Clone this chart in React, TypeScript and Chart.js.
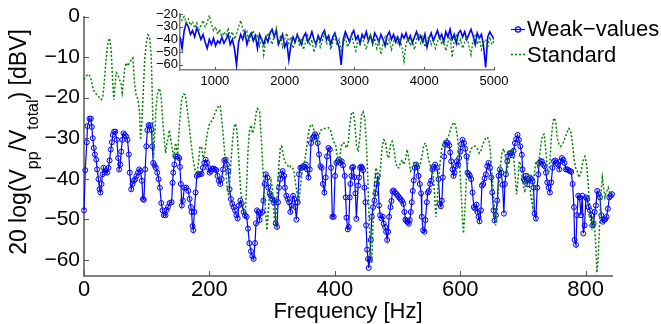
import React, { useEffect, useRef } from 'react';
import { Chart, registerables } from 'chart.js';
Chart.register(...registerables);

const FONT = '"Liberation Sans", Arial, Helvetica, sans-serif';

// ---------- main plot data ----------
const weakFreq = [0,2,4.5,5.6,8.8,11,12.5,14,15.6,17.3,19.4,21,23,24.7,26.3,28,29.5,31,33,35.4,37,39,40.7,42.8,44.4,46,48,50,52.4,54.5,56,57.8,59.4,61,63,65,67.4,69.4,71.5,73,75.3,77.4,79.5,81.7,83.8,86,88,90,92.3,93.9,95.5,97.6,99.3,101,103,105.6,107.7,108.8,110.4,112.5,114.6,116.8,119,121,123.2,125.3,127.4,130,131.7,133.8,136.5,139.7,141.3,142.3,144,146,149,152,153,154.5,156,157.7,160,163,166.3,168.4,170.5,171.5,173,174.3,175.9,178,180,182.3,184.8,187.5,189.6,191.8,194,196,198.2,200.3,202.4,204.6,206.7,208.8,211,213,215,217.4,219.5,221.6,223.8,225.9,228,230,232.2,234.3,236.5,238.6,240.7,243,245,247,249.3,251.4,254.6,256.7,259.4,261.5,263.7,266.3,268.5,270.5,272.7,274.3,275.8,278,280,281.7,284.4,286,288,290,292.4,294,296,297.7,300.4,302.5,304,305.7,307.8,309.4,311,313,314.7,316.8,319,320.5,322.7,324.8,327,329,331.2,333.3,335.5,337,338.7,340.8,342.9,345,347.2,349.2,351.5,353.6,355.6,358,360,362,364.2,366.3,368.4,370.6,372.7,374.8,377,379,381,383.4,385.5,387.5,389.8,392,394,396,398.2,400.3,402.5,404.6,406.7,409,411,413,415.8,417.4,418.5,420.6,422.2,423.8,424.8,426.4,427.5,429.1,431.2,432.8,434.4,437.1,438.7,440.3,441.9,443.5,445.1,447.2,448.8,449.8,451.4,453,454.1,455.7,457.3,458.9,461,463.1,464.7,466.9,468.5,470.6,472.2,474.3,476.4,478,480.2,481.8,483.4,485,486.6,488.7,490.3,491.9,494,496.1,498.3,500.4,502.5,504.6,507.3,509.4,511,512.6,514.2,516.3,518,519.5,521.1,522.7,524.3,525.9,527.5,529.6,531.2,533.4,535.5,537.6,538.7,540.8,543,544.5,546.7,548.3,549.9,552,553.6,555.7,557.4,560,562.7,565.3,567.5,569.1,570.7,572.3,574.4,576,578.1,580.2,582.4,584,585.6,587.7,589.3,590.9,593,594.6,596.7,598.3,599.9,601.5,603.6,605.8,607.9,610,611.6,613.8,615.3,617.5,619.6,621.7,623.9,626,627.6,629.2,630.8,633,634.5,636.6,638.8,640.9,643,645.1,647.3,649.4,651,653.1,654.7,656.8,659,661.1,663.2,665.4,667.5,669.6,671.2,672.8,675,676.5,678.7,680.8,682.9,685,687.2,689.3,691.4,693.6,695.7,698.3,699.4,701.5,703.1,704.7,706.8,709,711.1,713.2,715.3,716.9,718.5,720.6,722.8,724.4,726,728.1,730.2,732.3,734.5,736.6,738.7,740.9,743,745.1,747.2,749.4,751.5,753.6,755.7,757.9,760,762.1,764.3,766.4,768.5,770.6,772.8,774.9,777,779.2,781.3,782.3,784.5,786.1,788.2,790.3,792.5,794.6,796.2,798.3,800.4,802.6,804.7,806.8,809,810.5,812.7,814.3,816.4,818.5,820.7,822.8,824.9,827,829.2,831.3,833.4,835.5,837.7,839.8,842];
const weakDb = [-47.8,-37.9,-31,-27,-25.2,-25.2,-27.2,-30,-32.4,-34,-35.3,-37.7,-40.1,-42.6,-43.4,-41.3,-38.9,-37.3,-38.5,-37.9,-38.5,-37.3,-35.5,-32.8,-31,-29.2,-28.4,-28.4,-30.4,-34.9,-37.7,-36.5,-33.3,-30.4,-28.8,-29.2,-29.6,-30.4,-34,-38.5,-42.6,-41.3,-40.5,-40.1,-39.3,-38.5,-37.7,-38.1,-40.5,-45,-45.2,-37.7,-32,-28,-26.8,-26.8,-28,-32,-36.1,-36.7,-37.3,-38.5,-40.1,-42.2,-46,-47.8,-49,-49,-47.7,-47,-46,-45.8,-41,-38.5,-36.5,-34.5,-34.5,-34.9,-37.1,-41.3,-46.6,-45.4,-42.2,-42.2,-43,-45,-47,-48.2,-51.7,-52.7,-48.2,-43.4,-39.3,-38.9,-38.9,-38.8,-37.3,-36.1,-35.3,-36.1,-37.3,-38.5,-38.1,-37.5,-37.5,-37.7,-37.9,-39.3,-40.5,-41.3,-40.1,-37.7,-35.5,-35.3,-36.5,-38.1,-42.6,-45,-46.2,-47,-47.8,-49,-49.8,-46.6,-45.4,-46.2,-48.2,-49,-49.4,-52.3,-55.9,-57.9,-59.1,-59.8,-55.9,-51,-47.8,-48.2,-50.2,-48.6,-48.2,-45.4,-41.3,-38.9,-39.7,-42.2,-43.6,-44.2,-45,-45.8,-45.4,-51,-51.9,-45.8,-42.2,-40.1,-38.9,-38.1,-39.3,-42.2,-44.2,-45,-45.8,-48.2,-46.6,-44.2,-45,-47,-50.1,-45.8,-38.9,-37.3,-37.3,-36.9,-37.1,-36.5,-37.7,-39.7,-37.7,-31.2,-30,-29.6,-29,-29.6,-31.2,-34,-36.9,-37.3,-41.3,-43.4,-39.7,-34.5,-32.4,-32.8,-37.3,-49.4,-49.4,-39.3,-36.1,-35.7,-35.3,-36.1,-35.7,-36.7,-39.3,-44.6,-49.6,-52.5,-51.9,-44.6,-41.3,-39.3,-37.3,-37.1,-39.6,-43.6,-49.9,-41.7,-39.7,-37.3,-37,-37.3,-37.9,-42.2,-45.8,-51.5,-57.5,-59.8,-62,-60,-55.1,-49.4,-47,-45.4,-43.6,-41.3,-39.3,-46.6,-49,-49.8,-49.4,-51.1,-51.9,-53.1,-55.1,-53.1,-49.4,-47,-45.5,-43.1,-42.9,-43.4,-43.8,-44.2,-44.6,-45,-45.5,-46.2,-48.2,-50.1,-50.4,-50.7,-51.1,-50.2,-48.2,-45.8,-43,-40.4,-37.3,-36.5,-37.1,-39.3,-41.3,-43.6,-49.4,-52.7,-53.1,-50.2,-45.8,-43.4,-43,-41.3,-40.5,-37.7,-37.1,-36.5,-37.3,-40.1,-46.2,-46.8,-45.4,-39.7,-34.5,-31.6,-31,-31.2,-31.8,-33.5,-35.7,-37.7,-39.3,-38.5,-36.9,-35.7,-36.5,-34.9,-33.3,-31.5,-30.4,-31.2,-32.6,-34.5,-38.5,-38.9,-39.3,-40.1,-43.4,-47,-47.4,-46.4,-48.2,-49.4,-50.5,-47.8,-41.7,-41.3,-39.9,-38.9,-36.9,-36.1,-37.3,-39.7,-43.4,-47.8,-50.3,-49,-45.4,-39.3,-37.7,-38.5,-41.5,-48.6,-41.3,-38.9,-35.7,-34.5,-33.7,-33.7,-34.2,-33.1,-31.2,-30.2,-29.2,-30.4,-32,-34.1,-37.7,-40.1,-40.5,-39.3,-41.4,-40.1,-39.7,-40.1,-40.7,-42.2,-48.6,-49.8,-42.2,-38.9,-36.1,-35.7,-35.7,-36.5,-36.9,-38.5,-40.9,-42.2,-43.4,-40.9,-37.3,-35.7,-35.5,-36.1,-36.5,-37.7,-35.7,-34.9,-35.3,-36.1,-37.7,-37.7,-37.9,-38.1,-38.3,-41.3,-47,-55.1,-56.3,-49,-44.2,-44.6,-49,-44.2,-53.5,-51.5,-44.6,-45,-47,-47.8,-49,-51.5,-51.1,-48.2,-46.6,-43,-43.8,-44.6,-49,-50.6,-50.2,-50,-49.4,-47.4,-44.6,-44.2,-43.8];

const stdFreq = [0,3.4,7.7,11.4,14.1,16.7,22.1,27.4,30,32.7,35.4,38,40.7,43.3,46,47.6,49.7,51.3,54,56.6,59.3,60.9,63,64.6,67.3,69.9,72.6,75.3,77.9,80.6,83.2,85.9,88.6,90.2,92.3,93.9,96.5,99.2,101.9,104.5,107.2,108.8,109.8,110.9,112.5,115.2,117.8,120.5,123.1,125.8,128.5,130.1,132.2,134.3,136,139.7,142.9,146.1,149.3,152.5,155.7,158.8,161.5,164.2,167.3,170.5,173.7,176.9,180.1,182.8,184.9,187.6,190.2,192.9,196.1,199.3,202.5,205.7,208.8,212,215.2,217.4,220,222.7,224.8,226.9,229.1,231.2,233.8,236.5,239.2,241.8,244,246.1,248.2,250.3,253,255.1,257.3,259.4,261.5,263.6,266.3,269,271.6,274.8,276.4,280.1,283.3,285.4,287.5,289.7,291.8,293.9,296.1,298.2,300.3,302.4,304.6,306.7,308.8,310.9,313.1,315.2,317.3,319.5,321.6,324.2,326.9,329.6,332.2,334.9,337.5,340.2,342.9,345.5,348.2,350.8,353.5,356.2,358.8,361.5,364.1,366.8,369.5,371.6,373.7,375.8,378,381.2,385.4,389.7,392.9,395,397.1,399.3,401.4,403.5,405.6,407.8,409.9,411.9,414.7,418.5,421.1,423.8,426.4,429.1,431.8,434.4,437.1,439.7,442.4,445.1,447.7,450.4,452.5,454.6,456.8,458.9,461,463.1,465.3,467.4,470,472.7,475.4,478,480.7,483.4,486,488.7,491.3,494,496.7,499.3,502,504.6,507.3,509.9,512.6,515.3,517.9,520.6,523.3,525.9,528.6,531.2,533.9,536.6,539.2,541.9,544.5,547.2,549.9,552.5,556.8,559,561.1,563.2,565.3,568,570.7,573.9,577.1,580.2,583.4,586.6,589.8,592.5,595.1,597.3,599.4,601.5,603.6,605.2,607.4,609.5,612.2,614.8,617.5,620.7,623.9,627.1,630.3,633.4,636.6,639.8,643,645.7,648.3,651,653.6,656.3,658.4,661.1,663.8,666.4,669.1,671.7,674.4,677.1,679.7,682.4,685,687.7,689.8,692,694.1,696.2,698,700.4,703.1,705.7,708.4,711.1,713.7,715.8,718,720.6,723.3,726,728.6,731.3,733.9,736.6,738.7,740.9,743,745.6,748.3,750.4,752.6,754.7,757.3,760,763.2,766.4,769.6,772.8,776,778.6,781.3,784,786.6,789.3,792.5,795.6,798.8,801.5,803.6,805.8,807.9,810,812.1,814.3,816.4,818,820.1,822.2,824.4,826.5,828.6,830.8,832.9,836,838.7,842];
const stdDb = [-15.5,-14.6,-14.2,-15.5,-17.5,-18.7,-19.5,-20.5,-19.9,-15.5,-10.2,-6.6,-5.3,-8.2,-17.1,-20.5,-16.7,-13.8,-14.2,-15.5,-16.7,-18.7,-15.9,-13,-11.4,-12.2,-11.4,-10.6,-10.2,-16.3,-19.5,-20.3,-23.5,-30.4,-26,-20.7,-11.4,-6.6,-4.5,-4.9,-9.8,-18.7,-26,-34.9,-30,-21.9,-18.3,-17.7,-19.9,-26,-31.2,-33.7,-31.2,-29.9,-28,-31.6,-34.9,-31.2,-34.1,-26,-20.3,-19.1,-19.3,-22.3,-26.4,-30.8,-34.9,-37.7,-38.9,-35.7,-32,-32.4,-34.9,-33.3,-29.2,-26.8,-26,-25.2,-23.9,-22.7,-21.9,-22.1,-26,-30.4,-34.9,-39.7,-43.4,-44.2,-37.3,-31.2,-27.2,-26.4,-28.4,-33.3,-38.9,-43.8,-46.2,-47.8,-48.6,-41.3,-33.3,-28.4,-26.8,-28.8,-27.2,-23.5,-22.7,-23.5,-31.6,-38.1,-43.8,-48.6,-52.7,-47.8,-43.4,-40.5,-42.2,-47.8,-51.9,-47.8,-41.3,-36.5,-32.4,-32,-33.7,-35.3,-36.1,-36.5,-37.3,-36.9,-37.3,-38.1,-41.3,-43.8,-45.4,-41.3,-38.1,-36.5,-34.1,-30.8,-28,-26.6,-26.8,-28,-30,-31.2,-30,-28.8,-28,-27.6,-27.6,-27.4,-27.8,-29.2,-30.4,-31.2,-31.6,-34.1,-35.7,-34.9,-32.4,-31.2,-31.2,-32.4,-31.6,-26.8,-24,-23.5,-26,-31.6,-33.3,-30,-24.4,-23.5,-25.2,-31.6,-39.7,-49.4,-57.5,-60.8,-51.1,-41.3,-37.3,-38.1,-41.3,-37.3,-32.4,-30.4,-30.8,-34.1,-34.9,-31.6,-30.8,-32.4,-35.7,-37.3,-37.3,-36.1,-35.3,-36.5,-35.3,-32.8,-34.9,-38.1,-37.3,-36.1,-36.5,-36.1,-36.9,-36.1,-34.1,-31.6,-31.2,-32.8,-35.7,-36.9,-38.9,-43.8,-49.4,-45.4,-40.5,-35.7,-32.4,-30.8,-30.4,-30,-28.4,-26.8,-26.1,-26.8,-29.2,-32.4,-37.3,-43.8,-50.2,-53.5,-47.8,-40.5,-35.7,-33.7,-32.6,-32,-32,-32.6,-33.7,-32.9,-31.2,-30.2,-29.7,-30.4,-33.7,-39.3,-45.4,-51.5,-48.6,-42.2,-37.3,-33.7,-32.6,-34.1,-38.1,-35.7,-33.3,-32.6,-34.1,-39.7,-43.8,-40.5,-35.7,-36.5,-38.9,-41.7,-43.4,-40.5,-38.5,-42.2,-45.4,-47,-38.9,-35.7,-36.9,-34.9,-31.6,-29.2,-29,-33.3,-37.3,-38.9,-35.7,-29.2,-25.6,-25,-26.4,-30,-31.5,-32,-31.5,-30.2,-28.8,-27.6,-28,-30.8,-34.9,-37.3,-38.1,-39.7,-38.5,-35.7,-34.5,-36.5,-40.5,-45.4,-50.2,-51.9,-49.4,-51.9,-57.5,-63.2,-59.1,-51.1,-43.8,-39.7,-42.2,-44.6,-43.4,-42.2,-43.8,-43.4];

const xTicks = [0, 200, 400, 600, 800];
const yTicks = [0, -10, -20, -30, -40, -50, -60];

// ---------- inset data (500..5000 Hz) ----------
const insetXTicks = [1000, 2000, 3000, 4000, 5000];
const insetYTicks = [-20, -30, -40, -50, -60];
const insetWeakDb = [-38,-47,-33,-27,-30,-36,-33,-38,-31,-35,-40,-36,-42,-47,-40,-44,-39,-45,-41,-43,-38,-43,-40,-36,-44,-40,-47,-60,-42,-36,-40,-34,-44,-38,-35,-41,-37,-47,-36,-40,-44,-38,-42,-35,-32,-38,-33,-44,-40,-36,-46,-42,-56,-44,-38,-42,-36,-40,-44,-38,-35,-42,-39,-34,-40,-44,-37,-41,-36,-33,-40,-37,-44,-38,-35,-41,-46,-60,-40,-34,-38,-42,-36,-33,-40,-37,-43,-36,-39,-34,-41,-37,-43,-35,-38,-42,-36,-40,-45,-37,-34,-40,-36,-42,-38,-44,-36,-39,-35,-41,-37,-43,-38,-34,-40,-37,-42,-36,-46,-39,-35,-41,-37,-33,-39,-36,-42,-34,-38,-32,-40,-36,-43,-35,-33,-38,-34,-40,-36,-32,-37,-44,-35,-39,-36,-45,-62,-38,-34,-37,-40];
const insetStdDb = [-21,-25,-22,-27,-24,-29,-26,-31,-27,-33,-29,-25,-30,-27,-21,-28,-33,-30,-36,-32,-39,-34,-37,-31,-38,-34,-40,-36,-30,-25,-32,-38,-34,-42,-37,-33,-40,-36,-45,-38,-52,-40,-35,-39,-44,-37,-31,-41,-38,-46,-40,-35,-43,-38,-47,-41,-36,-44,-39,-48,-42,-37,-45,-40,-50,-43,-38,-46,-41,-35,-44,-39,-48,-42,-37,-45,-40,-49,-43,-38,-46,-41,-36,-44,-49,-40,-45,-38,-43,-48,-40,-36,-44,-39,-47,-41,-52,-43,-38,-45,-40,-48,-42,-37,-44,-39,-46,-57,-43,-38,-45,-41,-48,-40,-35,-43,-38,-46,-41,-37,-44,-39,-47,-42,-36,-44,-40,-49,-42,-38,-54,-41,-37,-45,-40,-47,-42,-38,-45,-52,-41,-37,-44,-39,-48,-42,-40,-46,-38,-44,-41];

const legendLabels = ['Weak\u2212values', 'Standard'];
const xTitle = 'Frequency [Hz]';
const yTitleParts = [
  { t: '20 log(V', sub: false },
  { t: 'pp', sub: true },
  { t: '/V', sub: false },
  { t: 'total', sub: true },
  { t: ') [dBV]', sub: false },
];

const BLUE = '#0000ff';
const GREEN = '#008000';
const AXIS = '#808080';

const fmtMinus = (v: number) => (v < 0 ? '\u2212' + Math.abs(v) : String(v));
const toPts = (xs: number[], ys: number[]) => xs.map((x, i) => ({ x, y: ys[i] }));
const insetPts = (ys: number[]) => ys.map((y, i) => ({ x: 500 + (i * 4500) / (ys.length - 1), y }));

const setTicks = (arr: number[]) => (scale: any) => {
  scale.ticks = arr.map((v) => ({ value: v }));
};

function drawInwardTicks(chart: any, xs: number[], ys: number[], len: number) {
  const { ctx, chartArea, scales } = chart;
  ctx.save();
  ctx.strokeStyle = '#555';
  ctx.lineWidth = 1;
  ctx.beginPath();
  ys.forEach((v) => {
    const py = Math.round(scales.y.getPixelForValue(v)) + 0.5;
    ctx.moveTo(chartArea.left, py);
    ctx.lineTo(chartArea.left + len, py);
  });
  xs.forEach((v) => {
    const px = Math.round(scales.x.getPixelForValue(v)) + 0.5;
    ctx.moveTo(px, chartArea.bottom);
    ctx.lineTo(px, chartArea.bottom - len);
  });
  ctx.stroke();
  ctx.restore();
}

const mainDecor = {
  id: 'mainDecor',
  afterDraw(chart: any) {
    const { ctx, chartArea } = chart;
    drawInwardTicks(chart, xTicks, yTicks, 5);
    ctx.save();
    ctx.fillStyle = '#000';
    // x title
    ctx.font = `22px ${FONT}`;
    ctx.textAlign = 'center';
    ctx.textBaseline = 'middle';
    ctx.fillText(xTitle, (chartArea.left + chartArea.right) / 2, 312);
    // y title with subscripts
    ctx.save();
    ctx.translate(0, 142);
    ctx.rotate(-Math.PI / 2);
    ctx.textAlign = 'left';
    ctx.textBaseline = 'alphabetic';
    const mainF = `23px ${FONT}`;
    const subF = `16px ${FONT}`;
    let total = 0;
    const widths = yTitleParts.map((p) => {
      ctx.font = p.sub ? subF : mainF;
      const w = ctx.measureText(p.t).width;
      total += w;
      return w;
    });
    let pos = -total / 2;
    yTitleParts.forEach((p, i) => {
      ctx.font = p.sub ? subF : mainF;
      ctx.fillText(p.t, pos, p.sub ? 38 : 26);
      pos += widths[i];
    });
    ctx.restore();
    // legend
    ctx.lineWidth = 1.2;
    ctx.strokeStyle = BLUE;
    ctx.beginPath();
    ctx.moveTo(511, 29.5);
    ctx.lineTo(525, 29.5);
    ctx.stroke();
    ctx.beginPath();
    ctx.arc(518, 29.5, 2.6, 0, Math.PI * 2);
    ctx.stroke();
    ctx.strokeStyle = GREEN;
    ctx.lineWidth = 1.5;
    ctx.setLineDash([2, 2]);
    ctx.beginPath();
    ctx.moveTo(511, 54.5);
    ctx.lineTo(525, 54.5);
    ctx.stroke();
    ctx.setLineDash([]);
    ctx.font = `22px ${FONT}`;
    ctx.textAlign = 'left';
    ctx.textBaseline = 'alphabetic';
    ctx.fillText(legendLabels[0], 527, 36);
    ctx.fillText(legendLabels[1], 527, 62);
    ctx.restore();
  },
};

const insetDecor = {
  id: 'insetDecor',
  afterDraw(chart: any) {
    drawInwardTicks(chart, insetXTicks, insetYTicks, 3);
  },
};

export default function App() {
  const mainRef = useRef<HTMLCanvasElement>(null);
  const insetRef = useRef<HTMLCanvasElement>(null);

  useEffect(() => {
    const main = new Chart(mainRef.current as HTMLCanvasElement, {
      type: 'line',
      data: {
        datasets: [
          {
            label: legendLabels[0],
            data: toPts(weakFreq, weakDb),
            borderColor: BLUE,
            borderWidth: 1.2,
            pointRadius: 2.5,
            pointBorderWidth: 1,
            pointBorderColor: BLUE,
            pointBackgroundColor: 'rgba(0,0,255,0.06)',
            pointStyle: 'circle',
            tension: 0,
            fill: false,
            clip: false as any,
            order: 1,
          },
          {
            label: legendLabels[1],
            data: toPts(stdFreq, stdDb),
            borderColor: GREEN,
            borderWidth: 1.5,
            borderDash: [2, 2],
            pointRadius: 0,
            tension: 0,
            fill: false,
            clip: false as any,
            order: 0,
          },
        ],
      },
      options: {
        animation: false,
        responsive: false,
        maintainAspectRatio: false,
        events: [],
        layout: { padding: { left: 0, right: 49, top: 13, bottom: 0 } },
        plugins: { legend: { display: false }, tooltip: { enabled: false } },
        scales: {
          x: {
            type: 'linear',
            min: 0,
            max: 842,
            afterBuildTicks: setTicks(xTicks),
            afterFit: (s: any) => { s.height = 48; },
            grid: { display: false, drawTicks: false },
            border: { display: true, color: AXIS, width: 2 },
            ticks: { color: '#000', font: { family: FONT, size: 22 }, padding: 1, maxRotation: 0, autoSkip: false, callback: (v: any) => String(v) },
          },
          y: {
            type: 'linear',
            min: -64,
            max: 0,
            afterBuildTicks: setTicks(yTicks),
            afterFit: (s: any) => { s.width = 84; },
            grid: { display: false, drawTicks: false },
            border: { display: true, color: AXIS, width: 2 },
            ticks: { color: '#000', font: { family: FONT, size: 21 }, padding: 4, autoSkip: false, callback: (v: any) => fmtMinus(Number(v)) },
          },
        },
      },
      plugins: [mainDecor],
    });

    const inset = new Chart(insetRef.current as HTMLCanvasElement, {
      type: 'line',
      data: {
        datasets: [
          {
            label: legendLabels[0],
            data: insetPts(insetWeakDb),
            borderColor: BLUE,
            borderWidth: 1.6,
            pointRadius: 0,
            tension: 0,
            fill: false,
            order: 1,
          },
          {
            label: legendLabels[1],
            data: insetPts(insetStdDb),
            borderColor: GREEN,
            borderWidth: 1.3,
            borderDash: [2, 2],
            pointRadius: 0,
            tension: 0,
            fill: false,
            order: 0,
          },
        ],
      },
      options: {
        animation: false,
        responsive: false,
        maintainAspectRatio: false,
        events: [],
        layout: { padding: { left: 140, right: 167, top: 14, bottom: 234 } },
        plugins: { legend: { display: false }, tooltip: { enabled: false } },
        scales: {
          x: {
            type: 'linear',
            min: 500,
            max: 5000,
            afterBuildTicks: setTicks(insetXTicks),
            afterFit: (s: any) => { s.height = 20; },
            grid: { display: false, drawTicks: false },
            border: { display: true, color: AXIS, width: 1.5 },
            ticks: { color: '#000', font: { family: FONT, size: 13 }, padding: 4, maxRotation: 0, autoSkip: false, callback: (v: any) => String(v) },
          },
          y: {
            type: 'linear',
            min: -64,
            max: -20,
            afterBuildTicks: setTicks(insetYTicks),
            afterFit: (s: any) => { s.width = 40; },
            grid: { display: false, drawTicks: false },
            border: { display: true, color: AXIS, width: 1.5 },
            ticks: { color: '#000', font: { family: FONT, size: 13 }, padding: 2, autoSkip: false, callback: (v: any) => fmtMinus(Number(v)) },
          },
        },
      },
      plugins: [insetDecor],
    });

    return () => {
      main.destroy();
      inset.destroy();
    };
  }, []);

  return (
    <div style={{ position: 'fixed', left: 0, top: 0, width: 661, height: 324, background: '#fff' }}>
      <canvas ref={mainRef} width={661} height={324} style={{ position: 'absolute', left: 0, top: 0, width: 661, height: 324 }} />
      <canvas ref={insetRef} width={661} height={324} style={{ position: 'absolute', left: 0, top: 0, width: 661, height: 324 }} />
    </div>
  );
}
